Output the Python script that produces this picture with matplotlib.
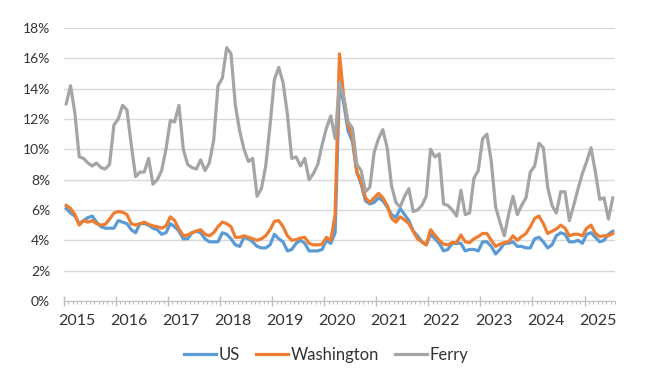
import matplotlib
matplotlib.use("Agg")
import matplotlib.pyplot as plt
import matplotlib.ticker as ticker

# monthly unemployment rate (%), Jan 2015 .. Jul 2025
years = [str(y) for y in range(2015, 2026)]

us = [
    6.1, 5.8, 5.6, 5.1, 5.3, 5.5, 5.6, 5.2, 4.9, 4.8, 4.8, 4.8,
    5.3, 5.2, 5.1, 4.7, 4.5, 5.1, 5.1, 5.0, 4.8, 4.7, 4.4, 4.5,
    5.1, 4.9, 4.6, 4.1, 4.1, 4.5, 4.6, 4.5, 4.1, 3.9, 3.9, 3.9,
    4.5, 4.4, 4.1, 3.7, 3.6, 4.2, 4.1, 3.9, 3.6, 3.5, 3.5, 3.7,
    4.4, 4.1, 3.9, 3.3, 3.4, 3.8, 4.0, 3.8, 3.3, 3.3, 3.3, 3.4,
    4.0, 3.8, 4.5, 14.4, 13.0, 11.2, 10.5, 8.5, 7.7, 6.6, 6.4, 6.5,
    6.8, 6.6, 6.2, 5.7, 5.5, 6.1, 5.7, 5.3, 4.6, 4.3, 3.9, 3.7,
    4.4, 4.1, 3.8, 3.3, 3.4, 3.8, 3.8, 3.8, 3.3, 3.4, 3.4, 3.3,
    3.9, 3.9, 3.6, 3.1, 3.4, 3.8, 3.8, 3.9, 3.6, 3.6, 3.5, 3.5,
    4.1, 4.2, 3.9, 3.5, 3.7, 4.3, 4.5, 4.4, 3.9, 3.9, 4.0, 3.8,
    4.4, 4.5, 4.2, 3.9, 4.0, 4.4, 4.6,
]

washington = [
    6.3, 6.1, 5.7, 5.0, 5.3, 5.2, 5.3, 5.1, 5.0, 5.05, 5.4, 5.8,
    5.9, 5.85, 5.7, 5.1, 5.0, 5.1, 5.2, 5.05, 4.95, 4.9, 4.8, 4.95,
    5.55, 5.3, 4.75, 4.3, 4.35, 4.5, 4.6, 4.7, 4.4, 4.3, 4.5, 4.9,
    5.2, 5.1, 4.9, 4.2, 4.2, 4.3, 4.2, 4.1, 4.0, 4.1, 4.3, 4.7,
    5.25, 5.3, 4.9, 4.3, 4.0, 4.05, 4.15, 4.2, 3.8, 3.7, 3.7, 3.75,
    4.2, 4.0, 5.7, 16.3, 13.4, 11.6, 10.8, 8.5, 7.9, 6.8, 6.5, 6.8,
    7.1, 6.8, 6.3, 5.45, 5.2, 5.55, 5.35, 5.1, 4.6, 4.1, 3.9, 3.7,
    4.7, 4.35, 4.0, 3.75, 3.7, 3.85, 3.85, 4.35, 3.9, 3.85, 4.1, 4.25,
    4.45, 4.45, 4.0, 3.6, 3.75, 3.85, 3.9, 4.3, 4.0, 4.25, 4.45, 4.9,
    5.45, 5.6, 5.1, 4.45, 4.6, 4.75, 5.0, 4.8, 4.3, 4.4, 4.4, 4.3,
    4.8, 5.0, 4.45, 4.25, 4.3, 4.3, 4.45,
]

ferry = [
    13.0, 14.2, 12.4, 9.5, 9.4, 9.1, 8.9, 9.1, 8.8, 8.7, 9.0, 11.6,
    12.0, 12.9, 12.6, 10.3, 8.2, 8.5, 8.5, 9.4, 7.7, 8.0, 8.6, 10.0,
    11.9, 11.8, 12.9, 10.0, 9.0, 8.8, 8.7, 9.3, 8.6, 9.1, 10.6, 14.2,
    14.7, 16.7, 16.3, 12.9, 11.2, 10.0, 9.2, 9.4, 6.9, 7.4, 8.9, 11.6,
    14.6, 15.4, 14.4, 12.3, 9.4, 9.5, 8.9, 9.4, 8.0, 8.4, 9.0, 10.3,
    11.4, 12.2, 10.7, 14.4, 13.4, 11.8, 11.4, 9.0, 8.6, 7.2, 7.5, 9.8,
    10.7, 11.3, 10.1, 7.6, 6.5, 6.2, 6.9, 7.4, 5.9, 6.0, 6.3, 6.9,
    10.0, 9.5, 9.7, 6.4, 6.3, 6.0, 5.6, 7.3, 5.7, 5.8, 8.1, 8.6,
    10.7, 11.0, 9.2, 6.2, 5.2, 4.3, 5.7, 6.9, 5.7, 6.3, 6.8, 8.5,
    8.9, 10.4, 10.1, 7.5, 6.3, 5.8, 7.2, 7.2, 5.3, 6.3, 7.4, 8.4,
    9.2, 10.1, 8.5, 6.7, 6.8, 5.4, 6.8,
]

series = [("US", us, "#5B9BD5"), ("Washington", washington, "#ED7D31"), ("Ferry", ferry, "#A5A5A5")]

TEXT = "#333333"
plt.rcParams["font.family"] = ["Lato", "DejaVu Sans"]

fig = plt.figure(figsize=(6.5, 3.78), dpi=100)
ax = fig.add_axes([0.0985, 0.2037, 0.8475, 0.7223])

n = len(us)
x = list(range(n))
for name, vals, col in series:
    ax.plot(x, vals, color=col, lw=2.3, label=name, solid_joinstyle="round")

ax.set_xlim(-0.5, n - 0.5)
ax.set_ylim(0, 18)
ax.yaxis.set_major_locator(ticker.MultipleLocator(2))
ax.yaxis.set_major_formatter(ticker.FuncFormatter(lambda v, p: f"{v:.0f}%"))
ax.tick_params(axis="y", length=0, pad=10, labelsize=10, labelcolor=TEXT)
ax.grid(axis="y", color="#D9D9D9", lw=1)
ax.set_axisbelow(True)

# year boundaries as major ticks, months as minor ticks
ax.set_xticks([i - 0.5 for i in range(0, n, 12)])
ax.set_xticks([i - 0.5 for i in range(n + 1)], minor=True)
ax.set_xticklabels([])
ax.tick_params(axis="x", which="major", direction="inout", length=7, width=1, color="#BFBFBF")
ax.tick_params(axis="x", which="minor", direction="out", length=2.5, width=0.8, color="#BFBFBF")

sec = ax.secondary_xaxis("bottom")
sec.set_xticks([i + 2.5 for i in range(0, n, 12)])
sec.set_xticklabels(years)
sec.tick_params(length=0, pad=9, labelsize=11.5, labelcolor=TEXT)
sec.spines["bottom"].set_visible(False)

for s in ["top", "right", "left"]:
    ax.spines[s].set_visible(False)
ax.spines["bottom"].set_color("#BFBFBF")

fig.legend(loc="center", bbox_to_anchor=(0.502, 0.061), ncol=3, frameon=False,
           fontsize=12, handlelength=1.9, handletextpad=0.15, columnspacing=1.0,
           labelcolor=TEXT)

fig.savefig("out.png", dpi=100)
